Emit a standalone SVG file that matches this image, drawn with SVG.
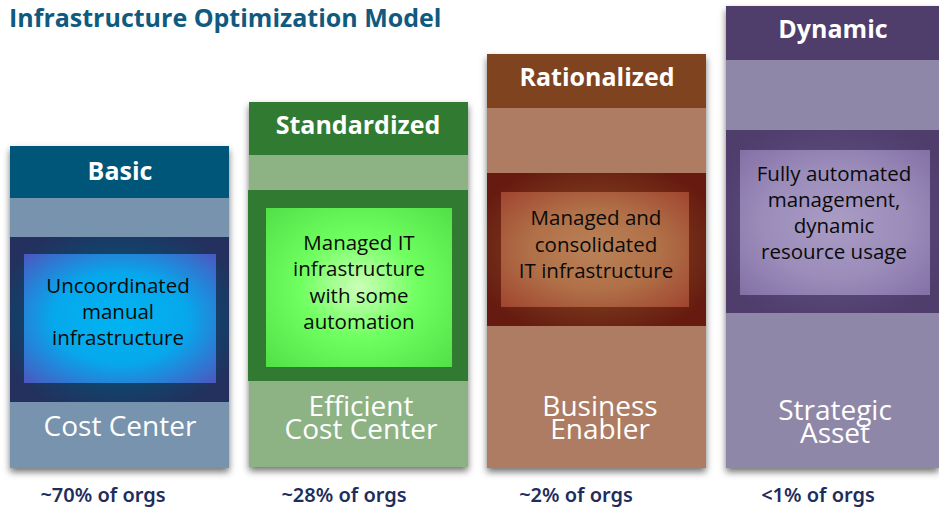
<svg xmlns="http://www.w3.org/2000/svg" width="939" height="509" viewBox="0 0 939 509">
  <defs>
    <filter id="shadow" x="-10%" y="-10%" width="120%" height="120%">
      <feDropShadow dx="0" dy="4" stdDeviation="3.5" flood-color="#000" flood-opacity="0.55"/>
    </filter>
    <!-- outer frame glows -->
    <radialGradient id="basicFrame" cx="50%" cy="50%" r="60%">
      <stop offset="0.55" stop-color="#0a4a70"/>
      <stop offset="1" stop-color="#24305e"/>
    </radialGradient>
    <radialGradient id="stdFrame" cx="50%" cy="50%" r="60%">
      <stop offset="0.6" stop-color="#317a31"/>
      <stop offset="1" stop-color="#317a31"/>
    </radialGradient>
    <radialGradient id="ratFrame" cx="50%" cy="50%" r="60%">
      <stop offset="0.5" stop-color="#7a3a1c"/>
      <stop offset="1" stop-color="#661a10"/>
    </radialGradient>
    <radialGradient id="dynFrame" cx="50%" cy="50%" r="60%">
      <stop offset="0.5" stop-color="#5a4a7a"/>
      <stop offset="1" stop-color="#4f3d6c"/>
    </radialGradient>
    <!-- inner panel fills -->
    <radialGradient id="basicFill" cx="50%" cy="50%" r="70%">
      <stop offset="0" stop-color="#00b4f2"/>
      <stop offset="0.5" stop-color="#06a8ec"/>
      <stop offset="1" stop-color="#4a58c0"/>
    </radialGradient>
    <radialGradient id="stdFill" cx="50%" cy="50%" r="70%">
      <stop offset="0" stop-color="#ccffb8"/>
      <stop offset="0.45" stop-color="#70ff60"/>
      <stop offset="1" stop-color="#52e048"/>
    </radialGradient>
    <radialGradient id="ratFill" cx="50%" cy="50%" r="70%">
      <stop offset="0" stop-color="#ba8258"/>
      <stop offset="0.5" stop-color="#b07048"/>
      <stop offset="1" stop-color="#a04530"/>
    </radialGradient>
    <radialGradient id="dynFill" cx="50%" cy="50%" r="70%">
      <stop offset="0" stop-color="#a99cc4"/>
      <stop offset="0.55" stop-color="#9b8cba"/>
      <stop offset="1" stop-color="#8470a6"/>
    </radialGradient>
  </defs>
  <style>
    .title { font: bold 25px "Open Sans", "Noto Sans", sans-serif; fill: #0f5a7e; }
    .head { font: bold 25px "Open Sans", "Noto Sans", sans-serif; fill: #ffffff; text-anchor: middle; }
    .body { font: 20.5px "Open Sans", "Noto Sans", sans-serif; fill: #0a0a0a; text-anchor: middle; }
    .role { font: 28px "Open Sans", "Noto Sans", sans-serif; fill: #ffffff; text-anchor: middle; }
    .share { font: 600 20px "Noto Sans", "Open Sans", sans-serif; fill: #1f2d5c; text-anchor: middle; }
  </style>

  <rect width="939" height="509" fill="#ffffff"/>

  <text class="title" x="9" y="27">Infrastructure Optimization Model</text>

  <!-- Basic -->
  <g id="basic">
    <g filter="url(#shadow)">
      <rect x="10" y="146" width="219" height="322" fill="#7893ad"/>
    </g>
    <rect x="10" y="146" width="219" height="52" fill="#005678"/>
    <rect x="10" y="237" width="219" height="165" fill="url(#basicFrame)"/>
    <rect x="24" y="254" width="192" height="129" fill="url(#basicFill)"/>
    <text class="head" x="120" y="180">Basic</text>
    <text class="body" x="118" y="293">Uncoordinated</text>
    <text class="body" x="118" y="319">manual</text>
    <text class="body" x="118" y="345">infrastructure</text>
    <text class="role" x="120" y="436">Cost Center</text>
  </g>

  <!-- Standardized -->
  <g id="standardized">
    <g filter="url(#shadow)">
      <rect x="249" y="102" width="219" height="365" fill="#8db384"/>
    </g>
    <rect x="249" y="102" width="219" height="53" fill="#317a31"/>
    <rect x="248" y="190" width="220" height="191" fill="url(#stdFrame)"/>
    <rect x="266" y="208" width="186" height="159" fill="url(#stdFill)"/>
    <text class="head" x="358" y="134">Standardized</text>
    <text class="body" x="359" y="250">Managed IT</text>
    <text class="body" x="359" y="276">infrastructure</text>
    <text class="body" x="359" y="303">with some</text>
    <text class="body" x="359" y="329">automation</text>
    <text class="role" x="361" y="416">Efficient</text>
    <text class="role" x="361" y="439">Cost Center</text>
  </g>

  <!-- Rationalized -->
  <g id="rationalized">
    <g filter="url(#shadow)">
      <rect x="487" y="54" width="219" height="414" fill="#ad7b62"/>
    </g>
    <rect x="487" y="54" width="219" height="54" fill="#7f4320"/>
    <rect x="487" y="173" width="219" height="153" fill="url(#ratFrame)"/>
    <rect x="501" y="192" width="188" height="115" fill="url(#ratFill)"/>
    <text class="head" x="597" y="86">Rationalized</text>
    <text class="body" x="596" y="225">Managed and</text>
    <text class="body" x="596" y="252">consolidated</text>
    <text class="body" x="596" y="278">IT infrastructure</text>
    <text class="role" x="600" y="416">Business</text>
    <text class="role" x="600" y="439">Enabler</text>
  </g>

  <!-- Dynamic -->
  <g id="dynamic">
    <g filter="url(#shadow)">
      <rect x="726" y="6" width="213" height="462" fill="#8f87a7"/>
    </g>
    <rect x="726" y="6" width="213" height="54" fill="#4f3d6c"/>
    <rect x="726" y="130" width="213" height="183" fill="url(#dynFrame)"/>
    <rect x="740" y="150" width="190" height="145" fill="url(#dynFill)"/>
    <text class="head" x="833" y="38">Dynamic</text>
    <text class="body" x="834" y="181">Fully automated</text>
    <text class="body" x="834" y="207">management,</text>
    <text class="body" x="834" y="233">dynamic</text>
    <text class="body" x="834" y="259">resource usage</text>
    <text class="role" x="835" y="420">Strategic</text>
    <text class="role" x="835" y="443">Asset</text>
  </g>

  <!-- adoption shares -->
  <g id="shares">
    <text class="share" x="103" y="502">~70% of orgs</text>
    <text class="share" x="344" y="502">~28% of orgs</text>
    <text class="share" x="576" y="502">~2% of orgs</text>
    <text class="share" x="818" y="502">&lt;1% of orgs</text>
  </g>
</svg>
